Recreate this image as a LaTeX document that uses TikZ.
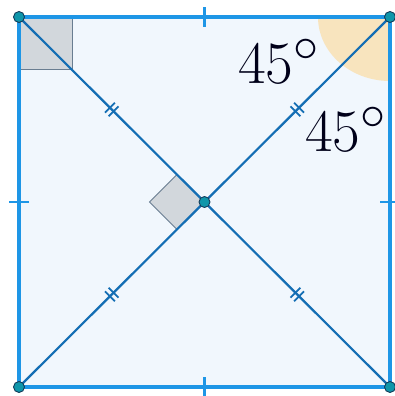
\documentclass[tikz,border=0pt]{standalone}
\usetikzlibrary{calc}
\definecolor{sqblue}{RGB}{30,150,230}
\definecolor{diagblue}{RGB}{20,110,180}
\definecolor{bgblue}{RGB}{241,247,253}
\definecolor{angfill}{RGB}{248,228,190}
\definecolor{rafill}{RGB}{210,215,220}
\definecolor{radraw}{RGB}{105,125,145}
\definecolor{ptfill}{RGB}{15,150,170}
\definecolor{ptdraw}{RGB}{20,60,90}

\begin{document}
\begin{tikzpicture}[x=1pt, y=1pt,
	side/.style={draw=sqblue, line width=3.2pt},
	diag/.style={draw=diagblue, line width=2.2pt},
	tickmark/.style={draw=sqblue, line width=2.6pt},
	dtick/.style={draw=diagblue, line width=1.8pt},
	rightang/.style={fill=rafill, draw=radraw, line width=1pt},
	pt/.style={circle, fill=ptfill, draw=ptdraw, line width=0.9pt, inner sep=0pt, minimum size=11pt},
	deg/.style={font=\Huge, scale=2.42, inner sep=0pt, text=black!90!blue}]
	\useasboundingbox (0,0) rectangle (395,396);
	% ---- square and centre ----
	\coordinate (A) at (19,379);
	\coordinate (B) at (390,379);
	\coordinate (C) at (19,9);
	\coordinate (D) at (390,9);
	\coordinate (O) at ($(A)!0.5!(D)$);
	\fill[bgblue] (A) rectangle (D);
	% ---- angle at B ----
	\fill[angfill] (B) -- ++(-72,0) arc[start angle=180, end angle=270, x radius=72, y radius=64] -- cycle;
	% ---- right angles ----
	\draw[rightang] (A) rectangle ++(53,-53);
	\draw[rightang] (O) -- ++(-27.5,27.5) -- ++(-27.5,-27.5) -- ++(27.5,-27.5) -- cycle;
	% ---- diagonals and sides ----
	\draw[diag] (A) -- (D);
	\draw[diag] (C) -- (B);
	\draw[side] (A) -- (B) -- (D) -- (C) -- cycle;
	% ---- equal sides ----
	\foreach \p/\q/\a in {A/B/0, C/D/0, A/C/90, B/D/90}{
		\draw[tickmark, shift={($(\p)!0.5!(\q)$)}, rotate=\a] (0,-10) -- (0,10);
	}
	% ---- equal half diagonals ----
	\foreach \p/\a in {A/-45, B/45, C/45, D/-45}{
		\coordinate (m\p) at ($(\p)!0.5!(O)$);
		\draw[dtick, shift={(m\p)}, rotate=\a] (-2.5,-7) -- (-2.5,7) (2.5,-7) -- (2.5,7);
	}
	% ---- points ----
	\foreach \p in {A,B,C,D,O}{
		\node[pt] (p\p) at (\p) {};
	}
	% ---- labels ----
	\node[deg] (degB1) at (279,335) {$45^\circ$};
	\node[deg] (degB2) at (346,267) {$45^\circ$};
\end{tikzpicture}
\end{document}
